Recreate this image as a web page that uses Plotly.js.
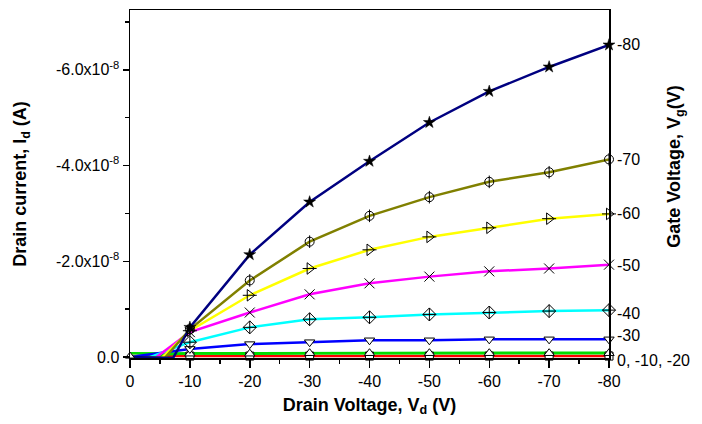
<!DOCTYPE html>
<html>
<head>
<meta charset="utf-8">
<script src="https://cdn.plot.ly/plotly-3.0.1.min.js"></script>
<style>html,body{margin:0;padding:0;background:#fff}#chart{width:702px;height:424px}</style>
</head>
<body>
<div id="chart"></div>
<script>
// Drain voltage points with symbols (V)
const drainVoltage = [-10, -20, -30, -40, -50, -60, -70, -80];

// Drain current (A) for each gate voltage
const idVg80 = [-0.62e-8, -2.14e-8, -3.24e-8, -4.09e-8, -4.90e-8, -5.55e-8, -6.06e-8, -6.52e-8];
const idVg70 = [-0.58e-8, -1.60e-8, -2.41e-8, -2.95e-8, -3.34e-8, -3.66e-8, -3.86e-8, -4.13e-8];
const idVg60 = [-0.55e-8, -1.29e-8, -1.85e-8, -2.24e-8, -2.51e-8, -2.70e-8, -2.89e-8, -2.99e-8];
const idVg50 = [-0.52e-8, -0.93e-8, -1.31e-8, -1.54e-8, -1.68e-8, -1.79e-8, -1.85e-8, -1.93e-8];
const idVg40 = [-0.31e-8, -0.62e-8, -0.79e-8, -0.83e-8, -0.89e-8, -0.93e-8, -0.96e-8, -0.98e-8];
const idVg30 = [-0.17e-8, -0.27e-8, -0.31e-8, -0.35e-8, -0.35e-8, -0.37e-8, -0.37e-8, -0.37e-8];
const idVg20 = [-0.08e-8, -0.08e-8, -0.08e-8, -0.08e-8, -0.09e-8, -0.09e-8, -0.09e-8, -0.09e-8];
const idVg10 = [-0.07e-8, -0.07e-8, -0.08e-8, -0.08e-8, -0.08e-8, -0.08e-8, -0.08e-8, -0.08e-8];
const idVg0  = [-0.02e-8, -0.02e-8, -0.02e-8, -0.02e-8, -0.02e-8, -0.02e-8, -0.02e-8, -0.02e-8];

// Low-voltage onset: current at Vd = 0 and where each curve leaves the axis
const startVd = [0, 0, 0, 0, 0, 0, 0, 0, 0];
const startId = [0, 0, 0, 0, 0, 0, -0.01e-8, -0.08e-8, -0.02e-8];
const kneeVd  = [-7.2, -5.8, -5.3, -4.2, -3.0, null, null, null, null];
const kneeId  = [0.02e-8, 0.02e-8, 0.02e-8, 0.02e-8, 0.02e-8, null, null, null, null];

const gateNames = ['-80', '-70', '-60', '-50', '-40', '-30', '-20', '-10', '0'];
const seriesIds = [idVg80, idVg70, idVg60, idVg50, idVg40, idVg30, idVg20, idVg10, idVg0];
const lineColors = ['#000080', '#808000', '#ffff00', '#ff00ff', '#00ffff', '#0000ff', '#00dd00', '#00dd00', '#ff0000'];

// Right-hand gate-voltage labels and their vertical anchors (A)
const gateLabels = ['-80', '-70', '-60', '-50', '-40', '-30', '0, -10, -20'];
const gateLabelY = [-6.52e-8, -4.13e-8, -2.99e-8, -1.91e-8, -0.91e-8, -0.44e-8, 0];

// Axis ticks
const xTicks = [0, -10, -20, -30, -40, -50, -60, -70, -80];
const xMinor = [-5, -15, -25, -35, -45, -55, -65, -75];
const yTicks = [0, -2e-8, -4e-8, -6e-8];
const yTickText = ['0.0', '-2.0x10<sup>-8</sup>', '-4.0x10<sup>-8</sup>', '-6.0x10<sup>-8</sup>'];
const yMinor = [-1e-8, -3e-8, -5e-8, -7e-8];

const FONT = 'Liberation Sans, Arial, sans-serif';
const traces = [];
// lines (draw from lowest to highest)
for (let i = seriesIds.length - 1; i >= 0; i--) {
  const xs = [startVd[i]];
  const ys = [startId[i]];
  if (kneeVd[i] !== null) { xs.push(kneeVd[i]); ys.push(kneeId[i]); }
  traces.push({
    x: xs.concat(drainVoltage), y: ys.concat(seriesIds[i]),
    mode: 'lines', type: 'scatter', name: 'Vg ' + gateNames[i],
    line: {color: lineColors[i], width: 2.5}, hoverinfo: 'skip', showlegend: false
  });
}
// symbols
function sym(xs, ys, symbol, size, fill, lw) {
  traces.push({
    x: xs, y: ys, mode: 'markers', type: 'scatter', showlegend: false, cliponaxis: false,
    marker: {symbol: symbol, size: size, color: fill, line: {color: '#000', width: lw}}
  });
}
sym(drainVoltage, idVg0, 'square', 8, '#fff', 1);
sym(drainVoltage, idVg10, 'triangle-up', 9, '#fff', 1);
sym(drainVoltage, idVg30, 'triangle-down', 9, '#fff', 1);
sym(drainVoltage, idVg40, 'diamond-cross-open', 10, '#000', 1);
sym(drainVoltage, idVg50, 'x-thin-open', 10, '#000', 1);
sym(drainVoltage, idVg60, 'triangle-right-open', 10, '#000', 1);
sym(drainVoltage, idVg60, 'line-ew-open', 10, '#000', 1);
sym(drainVoltage, idVg70, 'circle-open', 9, '#000', 1);
sym(drainVoltage, idVg70, 'line-ns-open', 9, '#000', 1);
sym(drainVoltage, idVg80, 'star', 9, '#000', 0.5);
sym([startVd[8]], [startId[8]], 'triangle-up', 8, '#fff', 1);

const annotations = gateLabels.map((t, i) => ({
  text: t, xref: 'paper', x: 1, xanchor: 'left', xshift: 6,
  yref: 'y', y: gateLabelY[i], yanchor: 'middle', yshift: (i === gateLabels.length - 1 ? -3 : 0),
  showarrow: false,
  font: {family: FONT, size: 16, color: '#000'}
}));
annotations.push({
  text: '<b>Gate Voltage, V<sub>g</sub>(V)</b>', xref: 'paper', yref: 'paper',
  x: 1.14, y: 0.55, textangle: -90, showarrow: false, xanchor: 'center', yanchor: 'middle',
  font: {family: FONT, size: 18, color: '#000'}
});

const layout = {
  width: 702, height: 424,
  margin: {l: 130, r: 93, t: 10, b: 66},
  paper_bgcolor: '#fff', plot_bgcolor: '#fff',
  font: {family: FONT, size: 16, color: '#000'},
  showlegend: false,
  xaxis: {
    range: [0, -80], tickmode: 'array', tickvals: xTicks, ticktext: xTicks.map(String),
    ticks: 'outside', ticklen: 8, tickwidth: 1.5, tickcolor: '#000',
    minor: {tickmode: 'array', tickvals: xMinor, ticks: 'outside', ticklen: 4, tickwidth: 1.5, tickcolor: '#000', showgrid: false},
    showline: true, linecolor: '#000', linewidth: 1.5, mirror: true,
    showgrid: false, zeroline: false,
    title: {text: '<b>Drain Voltage, V<sub>d</sub> (V)</b>', font: {size: 18}, standoff: 9}
  },
  yaxis: {
    range: [0.02e-8, -7.25e-8], tickmode: 'array', tickvals: yTicks, ticktext: yTickText,
    ticks: 'outside', ticklen: 6, tickwidth: 1.5, tickcolor: '#000',
    minor: {tickmode: 'array', tickvals: yMinor, ticks: 'outside', ticklen: 4, tickwidth: 1.5, tickcolor: '#000', showgrid: false},
    showline: true, linecolor: '#000', linewidth: 1.5, mirror: true,
    showgrid: false, zeroline: false,
    title: {text: '<b>Drain current, I<sub>d</sub> (A)</b>', font: {size: 18}, standoff: 24}
  },
  annotations: annotations
};

Plotly.newPlot('chart', traces, layout, {displayModeBar: false, staticPlot: true});
</script>
</body>
</html>
